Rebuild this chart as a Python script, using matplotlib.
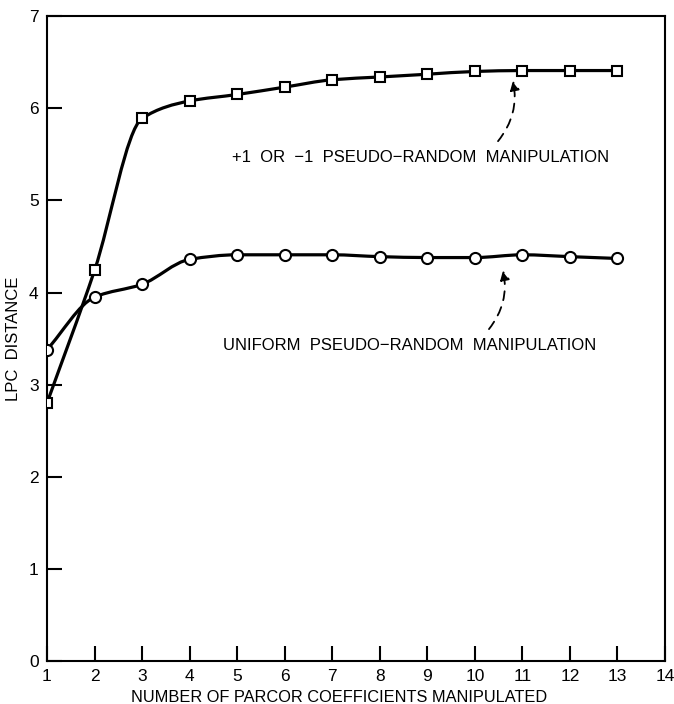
import numpy as np
import matplotlib.pyplot as plt
from matplotlib.path import Path
from matplotlib.patches import PathPatch

plt.rcParams["font.family"] = ["Liberation Sans", "DejaVu Sans"]

n_coef = [1, 2, 3, 4, 5, 6, 7, 8, 9, 10, 11, 12, 13]
binary_dist = [2.80, 4.24, 5.89, 6.08, 6.15, 6.23, 6.31, 6.34, 6.37, 6.40, 6.41, 6.41, 6.41]
uniform_dist = [3.38, 3.95, 4.09, 4.36, 4.41, 4.41, 4.41, 4.39, 4.38, 4.38, 4.41, 4.39, 4.37]
x_ticks = list(range(1, 15))
y_ticks = list(range(0, 8))


def smooth_path(xs, ys):
    # monotone cubic (fritsch-carlson) tangents, drawn as bezier segments
    x = np.asarray(xs, float)
    y = np.asarray(ys, float)
    h = np.diff(x)
    d = np.diff(y) / h
    m = np.zeros_like(y)
    m[0], m[-1] = d[0], d[-1]
    for i in range(1, len(y) - 1):
        if d[i - 1] * d[i] <= 0:
            m[i] = 0
        else:
            w1 = 2 * h[i] + h[i - 1]
            w2 = h[i] + 2 * h[i - 1]
            m[i] = (w1 + w2) / (w1 / d[i - 1] + w2 / d[i])
    verts = [(x[0], y[0])]
    codes = [Path.MOVETO]
    for i in range(len(x) - 1):
        verts += [(x[i] + h[i] / 3, y[i] + m[i] * h[i] / 3),
                  (x[i + 1] - h[i] / 3, y[i + 1] - m[i + 1] * h[i] / 3),
                  (x[i + 1], y[i + 1])]
        codes += [Path.CURVE4] * 3
    return Path(verts, codes)


fig = plt.figure(figsize=(6.74, 7.04), dpi=100)
ax = fig.add_axes([0.0697, 0.061, 0.917, 0.916])

for ys in (binary_dist, uniform_dist):
    ax.add_patch(PathPatch(smooth_path(n_coef, ys), facecolor="none",
                           edgecolor="black", lw=2.3, zorder=2))

ax.plot(n_coef, binary_dist, ls="none", marker="s", ms=7, mfc="white",
        mec="black", mew=1.5, zorder=3)
ax.plot(n_coef, uniform_dist, ls="none", marker="o", ms=8, mfc="white",
        mec="black", mew=1.5, zorder=3)

ax.text(8.85, 5.47, "+1  OR  \u22121  PSEUDO\u2212RANDOM  MANIPULATION",
        ha="center", va="center", fontsize=12)
ax.text(8.62, 3.42, "UNIFORM  PSEUDO\u2212RANDOM  MANIPULATION",
        ha="center", va="center", fontsize=12)

arrow = dict(arrowstyle="-|>", ls=(0, (5, 4)), lw=1.3, color="black",
             connectionstyle="arc3,rad=0.25", mutation_scale=14)
ax.annotate("", xy=(10.79, 6.33), xytext=(10.45, 5.62), arrowprops=arrow)
ax.annotate("", xy=(10.58, 4.27), xytext=(10.26, 3.58), arrowprops=arrow)

ax.set_xlim(1, 14)
ax.set_ylim(0, 7)
ax.set_xticks(x_ticks)
ax.set_yticks(y_ticks)
ax.tick_params(direction="in", length=11, width=1.5, labelsize=12.5, pad=6)
for s in ax.spines.values():
    s.set_linewidth(1.5)

ax.set_xlabel("NUMBER OF PARCOR COEFFICIENTS MANIPULATED", fontsize=11.8)
ax.xaxis.set_label_coords(0.472, -0.045)
ax.set_ylabel("LPC  DISTANCE", fontsize=12, labelpad=6)

fig.savefig("out.png", dpi=100)
